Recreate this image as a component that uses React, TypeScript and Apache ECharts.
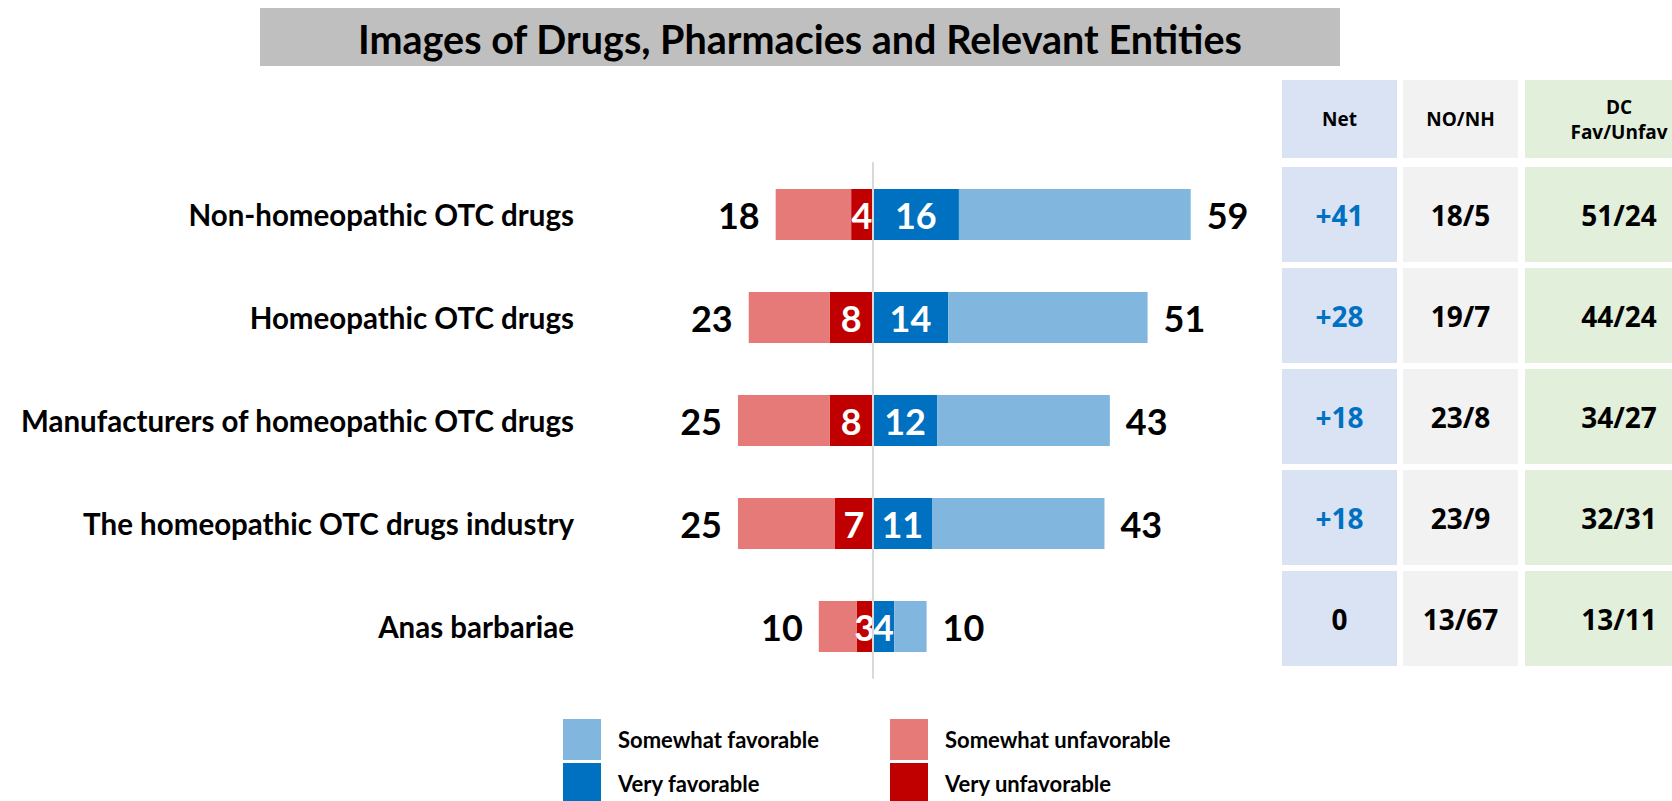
import React, { useEffect, useRef } from "react";
import * as echarts from "echarts";

const categories = [
  "Non-homeopathic OTC drugs",
  "Homeopathic OTC drugs",
  "Manufacturers of homeopathic OTC drugs",
  "The homeopathic OTC drugs industry",
  "Anas barbariae",
];
const veryFav = [16, 14, 12, 11, 4];
const someFav = [43, 37, 32, 32, 6];
const veryUnfav = [4, 8, 8, 7, 3];
const someUnfav = [14, 15, 17, 18, 7];
const totalFav = [59, 51, 43, 43, 10];
const totalUnfav = [18, 23, 25, 25, 10];

const tableHeaders = ["Net", "NO/NH", "DC\nFav/Unfav"];
const netValues = ["+41", "+28", "+18", "+18", "0"];
const noNhValues = ["18/5", "19/7", "23/8", "23/9", "13/67"];
const dcValues = ["51/24", "44/24", "34/27", "32/31", "13/11"];

const TITLE = "Images of Drugs, Pharmacies and Relevant Entities";

const C_SOME_FAV = "#81B6DE";
const C_VERY_FAV = "#0070C0";
const C_SOME_UNFAV = "#E67A78";
const C_VERY_UNFAV = "#C00000";

const LATO = "Lato";
const OPEN = "'Open Sans'";

function buildTable() {
  const cols = [
    { x: 1282, w: 115, fill: "#DAE3F3", values: netValues, blue: true },
    { x: 1403, w: 115, fill: "#F2F2F2", values: noNhValues, blue: false },
    { x: 1525, w: 188, fill: "#E2EFDA", values: dcValues, blue: false },
  ];
  const headerTop = 80;
  const headerH = 78;
  const rowTop = 167;
  const rowPitch = 101;
  const rowH = 95;
  const els: any[] = [];
  cols.forEach((c, ci) => {
    els.push({
      type: "rect",
      shape: { x: c.x, y: headerTop, width: c.w, height: headerH },
      style: { fill: c.fill },
      silent: true,
    });
    els.push({
      type: "text",
      x: c.x + c.w / 2,
      y: headerTop + headerH / 2,
      style: {
        text: tableHeaders[ci],
        fontFamily: OPEN,
        fontWeight: "bold",
        fontSize: 19,
        lineHeight: 25,
        fill: "#000",
        align: "center",
        verticalAlign: "middle",
        textAlign: "center",
        textVerticalAlign: "middle",
      },
      silent: true,
    });
    c.values.forEach((v, ri) => {
      const y = rowTop + ri * rowPitch;
      els.push({
        type: "rect",
        shape: { x: c.x, y, width: c.w, height: rowH },
        style: { fill: c.fill },
        silent: true,
      });
      els.push({
        type: "text",
        x: c.x + c.w / 2,
        y: y + rowH / 2,
        style: {
          text: v,
          fontFamily: OPEN,
          fontWeight: "bold",
          fontSize: 28,
          fill: c.blue && v.startsWith("+") ? "#0070C0" : "#000",
          align: "center",
          verticalAlign: "middle",
          textAlign: "center",
          textVerticalAlign: "middle",
        },
        silent: true,
      });
    });
  });
  return els;
}

export default function App() {
  const ref = useRef<HTMLDivElement>(null);
  useEffect(() => {
    document.body.style.margin = "0";
    const chart = echarts.init(ref.current!, null, { renderer: "svg" });
    const insideLabel = {
      show: true,
      position: "inside",
      color: "#fff",
      fontFamily: LATO,
      fontWeight: "bold",
      fontSize: 36,
      formatter: (p: any) => String(Math.abs(p.value)),
    };
    const legendText = {
      fontFamily: LATO,
      fontWeight: "bold",
      fontSize: 22,
      color: "#000",
      padding: [0, 0, 0, 12],
    };
    const legendBase = {
      orient: "vertical",
      top: 719,
      height: 100,
      padding: 0,
      itemWidth: 38,
      itemHeight: 41,
      itemGap: 3,
      icon: "rect",
      selectedMode: false,
      textStyle: legendText,
    };
    chart.setOption({
      animation: false,
      backgroundColor: "#fff",
      grid: {
        left: 711,
        width: 539,
        top: 163,
        height: 515,
        containLabel: false,
        outerBoundsMode: "none",
      },
      xAxis: {
        type: "value",
        min: -30,
        max: 70,
        show: false,
      },
      yAxis: {
        type: "category",
        data: categories,
        inverse: true,
        z: 5,
        axisLine: { show: true, onZero: true, lineStyle: { color: "#D9D9D9", width: 2 } },
        axisTick: { show: false },
        splitLine: { show: false },
        axisLabel: {
          margin: 137,
          fontFamily: LATO,
          fontWeight: "bold",
          fontSize: 29.5,
          color: "#000",
        },
      },
      legend: [
        {
          ...legendBase,
          data: ["Somewhat favorable", "Very favorable"],
          left: 563,
        },
        {
          ...legendBase,
          data: ["Somewhat unfavorable", "Very unfavorable"],
          left: 890,
        },
      ],
      series: [
        {
          name: "Very unfavorable",
          type: "bar",
          stack: "s",
          barWidth: 51,
          data: veryUnfav.map((v) => -v),
          itemStyle: { color: C_VERY_UNFAV },
          label: insideLabel,
        },
        {
          name: "Somewhat unfavorable",
          type: "bar",
          stack: "s",
          barWidth: 51,
          data: someUnfav.map((v) => -v),
          itemStyle: { color: C_SOME_UNFAV },
          label: {
            show: true,
            position: "left",
            distance: 16,
            color: "#000",
            fontFamily: LATO,
            fontWeight: "bold",
            fontSize: 36,
            formatter: (p: any) => String(totalUnfav[p.dataIndex]),
          },
        },
        {
          name: "Very favorable",
          type: "bar",
          stack: "s",
          barWidth: 51,
          data: veryFav,
          itemStyle: { color: C_VERY_FAV },
          label: insideLabel,
        },
        {
          name: "Somewhat favorable",
          type: "bar",
          stack: "s",
          barWidth: 51,
          data: someFav,
          itemStyle: { color: C_SOME_FAV },
          label: {
            show: true,
            position: "right",
            distance: 16,
            color: "#000",
            fontFamily: LATO,
            fontWeight: "bold",
            fontSize: 36,
            formatter: (p: any) => String(totalFav[p.dataIndex]),
          },
        },
      ],
      graphic: [
        {
          type: "rect",
          shape: { x: 260, y: 8, width: 1080, height: 58 },
          style: { fill: "#BFBFBF" },
          silent: true,
        },
        {
          type: "text",
          x: 800,
          y: 38,
          style: {
            text: TITLE,
            fontFamily: LATO,
            fontWeight: "bold",
            fontSize: 39.5,
            fill: "#000",
            align: "center",
            verticalAlign: "middle",
            textAlign: "center",
            textVerticalAlign: "middle",
          },
          silent: true,
        },
        ...buildTable(),
      ],
    });
    return () => chart.dispose();
  }, []);
  return (
    <div
      ref={ref}
      style={{ position: "absolute", left: 0, top: 0, width: 1672, height: 801 }}
    />
  );
}
